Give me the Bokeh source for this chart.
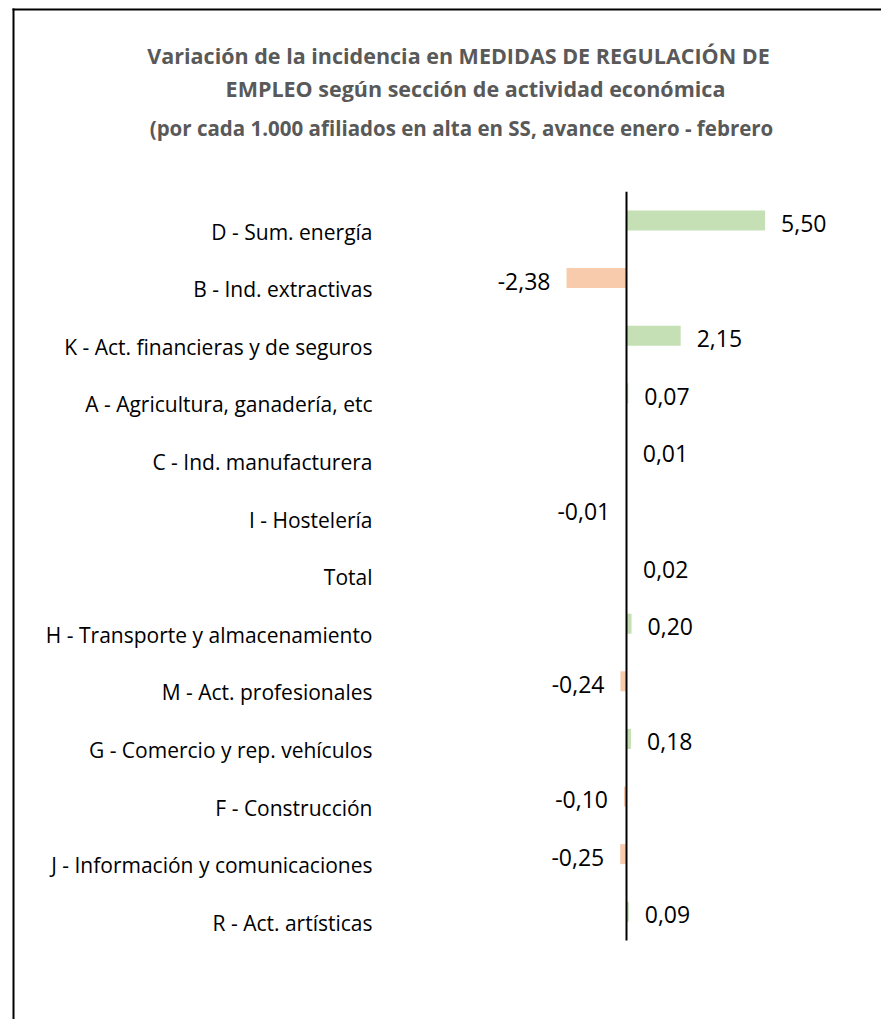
from bokeh.plotting import figure
from bokeh.models import Range1d, ColumnDataSource
from bokeh.core.properties import value
from bokeh.embed import file_html
from bokeh.resources import INLINE

categories = ["D - Sum. energía", "B - Ind. extractivas", "K - Act. financieras y de seguros",
              "A - Agricultura, ganadería, etc", "C - Ind. manufacturera", "I - Hostelería",
              "Total", "H - Transporte y almacenamiento", "M - Act. profesionales",
              "G - Comercio y rep. vehículos", "F - Construcción",
              "J - Información y comunicaciones", "R - Act. artísticas"]
values = [5.50, -2.38, 2.15, 0.07, 0.01, -0.01, 0.02, 0.20, -0.24, 0.18, -0.10, -0.25, 0.09]
title_lines = ["Variación de la incidencia en MEDIDAS DE REGULACIÓN DE",
               "EMPLEO según sección de actividad económica",
               "(por cada 1.000 afiliados en alta en SS, avance enero - febrero"]

W, H = 881, 1019
zero_px = 626.0
sx = 25.2
row_px = 57.6
first_row_px = 220.0
n = len(categories)
FONT = "Open Sans"

x0 = -zero_px / sx
x1 = (W - zero_px) / sx
ytop = (n - 1) + first_row_px / row_px
ybot = ytop - H / row_px

def px_x(cx):
    return x0 + cx / sx

def px_y(cy):
    return ytop - cy / row_px

pos = [n - 1 - i for i in range(n)]
src = ColumnDataSource(dict(
    y=pos,
    v=values,
    left=[min(0, v) for v in values],
    right=[max(0, v) for v in values],
    color=["#C5E0B4" if v >= 0 else "#F8CBAD" for v in values],
    lab=[f"{v:.2f}".replace(".", ",") for v in values],
    cat=categories,
))
pos_src = ColumnDataSource({k: [c for c, v in zip(src.data[k], values) if v >= 0] for k in src.data})
neg_src = ColumnDataSource({k: [c for c, v in zip(src.data[k], values) if v < 0] for k in src.data})

p = figure(width=W, height=H, output_backend="svg", toolbar_location=None,
           x_range=Range1d(x0, x1), y_range=Range1d(ybot, ytop),
           min_border=0, min_border_left=0, min_border_right=0, min_border_top=0, min_border_bottom=0)
p.axis.visible = False
p.grid.visible = False
p.outline_line_color = None
p.background_fill_color = "white"
p.border_fill_color = "white"

# chart-area border (left and top visible)
p.segment(x0=[px_x(13), px_x(12)], y0=[px_y(H), px_y(9)],
          x1=[px_x(13), px_x(W)], y1=[px_y(8), px_y(9)],
          line_color="#000000", line_width=2)

p.hbar(y="y", left="left", right="right", height=20 / row_px, fill_color="color",
       line_color=None, source=src)

# zero axis
p.segment(x0=[0], y0=[-0.5], x1=[0], y1=[n - 0.5], line_color="#000000", line_width=2)

# value labels
p.text(x="right", y="y", text="lab", source=pos_src, x_offset=16, y_offset=3,
       text_align="left", text_baseline="middle", text_font=value(FONT),
       text_font_size="23px", text_color="#000000")
p.text(x="left", y="y", text="lab", source=neg_src, x_offset=-16, y_offset=3,
       text_align="right", text_baseline="middle", text_font=value(FONT),
       text_font_size="23px", text_color="#000000")

# category labels
p.text(x=0, y="y", text="cat", source=src, x_offset=-254, y_offset=11,
       text_align="right", text_baseline="middle", text_font=value(FONT),
       text_font_size="21px", text_color="#000000")

# title
tys = [55, 88, 127]
tcx = [458, 475, 461]
tsz = ["21.5px", "21.5px", "20.5px"]
for t, cy, cx, fs in zip(title_lines, tys, tcx, tsz):
    p.text(x=[px_x(cx)], y=[px_y(cy)], text=[t], text_align="center", text_baseline="middle",
           text_font=value(FONT), text_font_style="bold", text_font_size=fs,
           text_color="#595959")

open("out.html", "w").write(file_html(p, INLINE))
